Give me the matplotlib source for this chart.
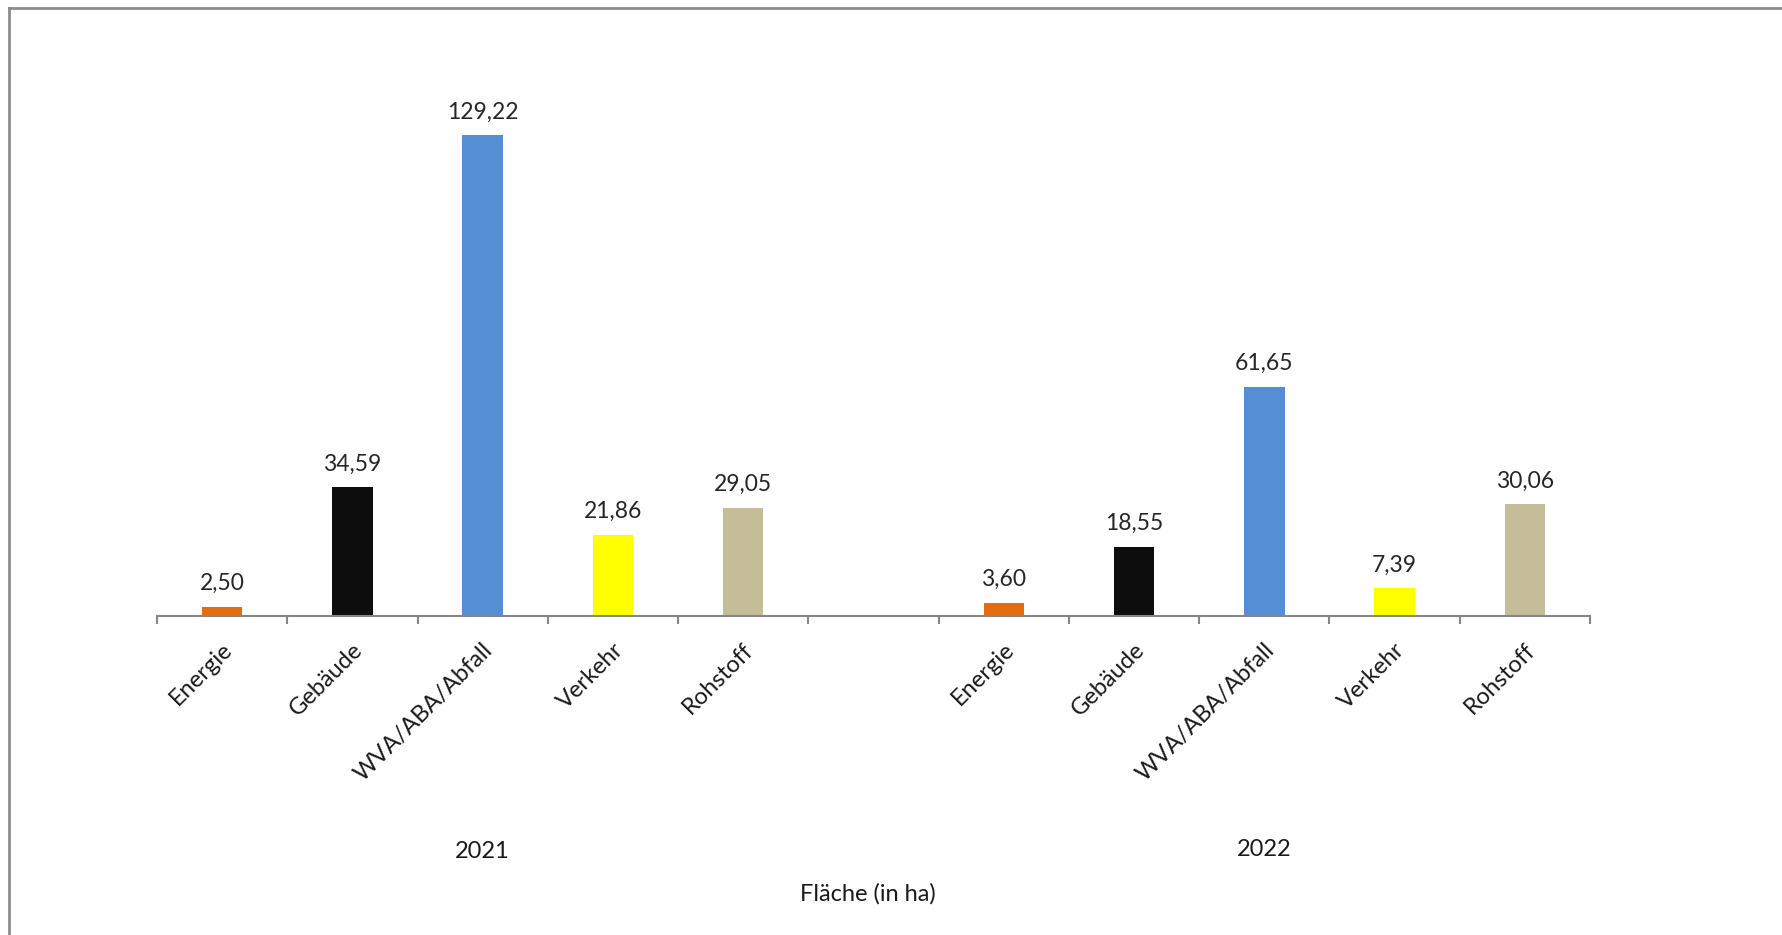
import matplotlib.pyplot as plt
from matplotlib.lines import Line2D

plt.rcParams['font.family'] = ['Lato', 'DejaVu Sans']

categories = ['Energie', 'Gebäude', 'WVA/ABA/Abfall', 'Verkehr', 'Rohstoff']
years = ['2021', '2022']
values_2021 = [2.50, 34.59, 129.22, 21.86, 29.05]
values_2022 = [3.60, 18.55, 61.65, 7.39, 30.06]
colors = ['#E46C0A', '#0D0D0D', '#558ED5', '#FFFF00', '#C4BD97']
axis_title = 'Fläche (in ha)'

fig = plt.figure(figsize=(17.82, 9.35), dpi=100)
ax = fig.add_axes([157 / 1782, 319 / 935, 1433 / 1782, 140 * 3.722 / 935])

# positions: 5 categories, one empty slot, 5 categories
pos_2021 = list(range(5))
pos_2022 = [p + 6 for p in range(5)]
positions = pos_2021 + pos_2022
values = values_2021 + values_2022
labels = categories + categories

ax.bar(positions, values, width=0.31, color=colors + colors)

for p, v in zip(positions, values):
    ax.annotate(f'{v:.2f}'.replace('.', ','), (p, v), xytext=(0, 12),
                textcoords='offset points', ha='center', va='baseline',
                fontsize=16.5, color='#262626')

ax.set_xlim(-0.5, 10.5)
ax.set_ylim(0, 140)
ax.set_xticks([i - 0.5 for i in range(12)])
ax.set_xticklabels([])
ax.tick_params(axis='x', length=6, width=1.5, color='#868686')
ax.set_yticks([])
for s in ['top', 'right', 'left']:
    ax.spines[s].set_visible(False)
ax.spines['bottom'].set_color('#868686')
ax.spines['bottom'].set_linewidth(1.5)

for p, lab in zip(positions, labels):
    ax.annotate(lab, (p, 0), xycoords=('data', 'axes fraction'), xytext=(5, -22),
                textcoords='offset points', rotation=45, ha='right', va='center',
                rotation_mode='anchor', fontsize=17, color='#1a1a1a')

ax.annotate(years[0], (2, 1 - 852 / 935), xycoords=('data', 'figure fraction'),
            ha='center', va='center', fontsize=17, color='#1a1a1a')
ax.annotate(years[1], (8, 1 - 850 / 935), xycoords=('data', 'figure fraction'),
            ha='center', va='center', fontsize=17, color='#1a1a1a')
fig.text(868 / 1782, 1 - 894 / 935, axis_title, ha='center', va='center',
         fontsize=17, color='#1a1a1a')

# frame of the cropped screenshot (top and left edge)
fig.add_artist(Line2D([9 / 1782, 1], [1 - 8 / 935, 1 - 8 / 935], color='#8c8c8c', lw=2))
fig.add_artist(Line2D([9 / 1782, 9 / 1782], [0, 1 - 8 / 935], color='#8c8c8c', lw=2))

fig.savefig('out.png', dpi=100)
